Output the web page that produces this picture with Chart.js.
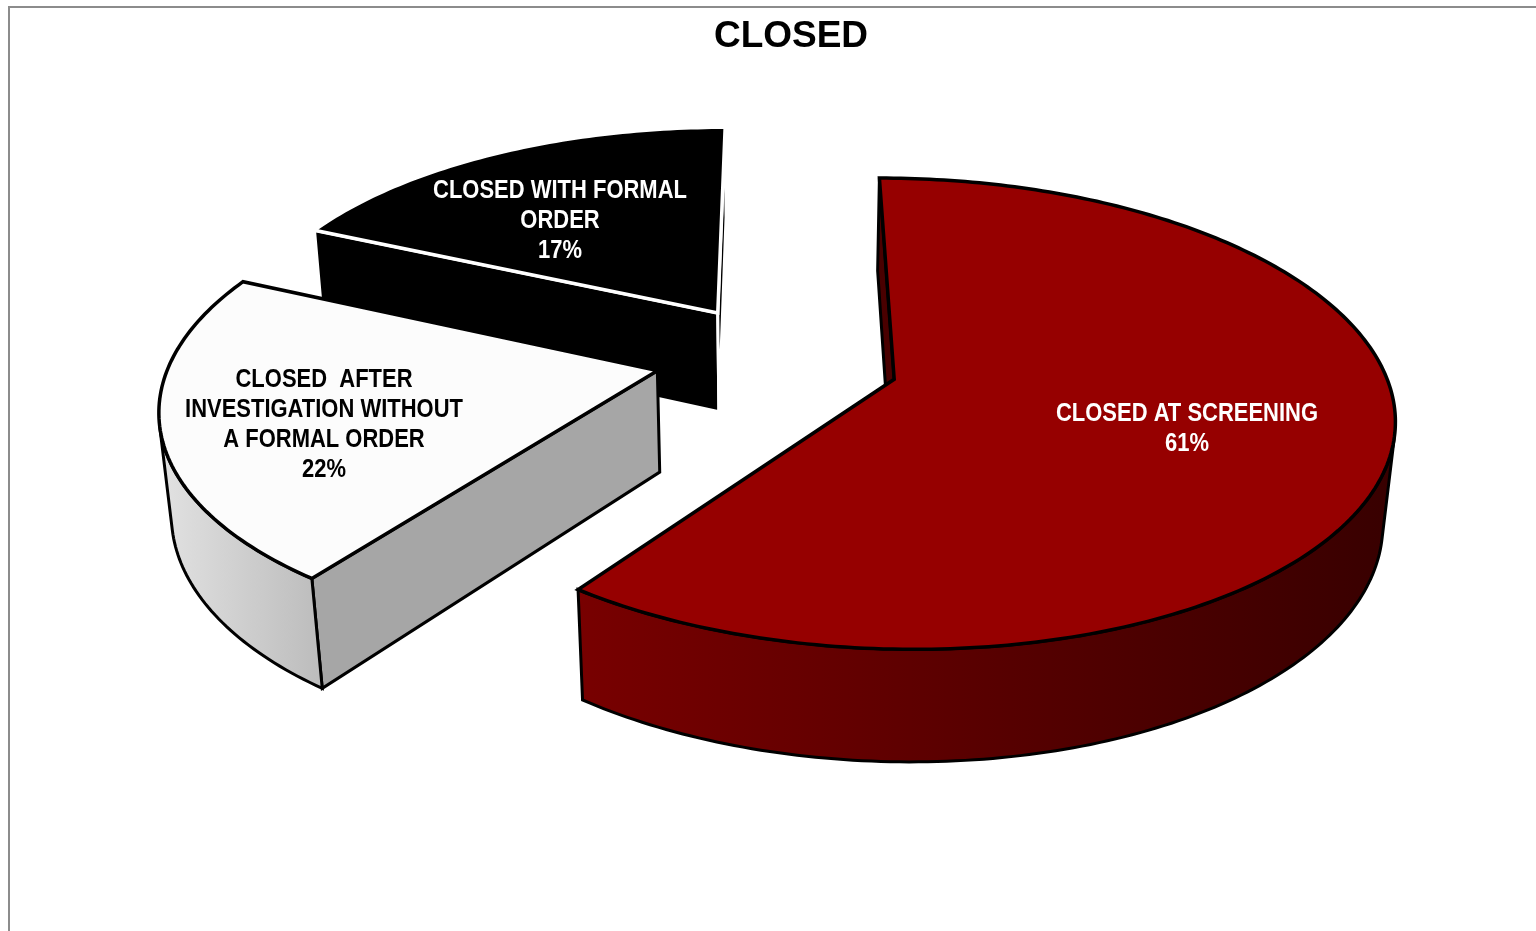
<!DOCTYPE html>
<html>
<head>
<meta charset="utf-8">
<title>CLOSED</title>
<script src="https://cdn.jsdelivr.net/npm/chart.js@4"></script>
<style>
  html, body { margin: 0; height: 100%; background: #fff; overflow: hidden; }
  #frame { position: absolute; left: 8px; top: 6px; width: 1700px; height: 1100px; border: 2px solid #8c8c8c; }
  #chart { position: absolute; left: 0; top: 0; }
</style>
</head>
<body>
<div id="frame"></div>
<canvas id="chart" width="1582" height="931"></canvas>
<script>
const categories = ["CLOSED AT SCREENING", "CLOSED AFTER INVESTIGATION WITHOUT A FORMAL ORDER", "CLOSED WITH FORMAL ORDER"];
const shares = [61, 22, 17];
const labelLines = [
  ["CLOSED AT SCREENING"],
  ["CLOSED  AFTER", "INVESTIGATION WITHOUT", "A FORMAL ORDER"],
  ["CLOSED WITH FORMAL", "ORDER"]
];

const topColors = ["#960000", "#fcfcfc", "#000000"];
const edgeColors = ["#000000", "#000000", "#ffffff"];
const labelColors = ["#ffffff", "#000000", "#ffffff"];
const faceColors = ["#4a0000", "#a6a6a6", "#000000"];
const wallGradients = [["#780000", "#380000"], ["#e2e2e2", "#bcbcbc"], ["#000000", "#000000"]];
const labelCenters = [[1187, 429], [324, 425], [560, 221]];

// camera used to lay the flat pie onto the screen
const view = { cx: 778, cy: 360, radius: 487, tilt: 0.462, persp: 0.000296, depth: 103, sink: 0.02, twist: 5 * Math.PI / 180 };

function project(u, v, z) {
  const w = 1 + view.persp * v + view.sink * z;
  return { x: view.cx + u / w, y: view.cy + (-view.tilt * v + view.depth * z) / w };
}

// the view twists cut lines towards the front on the left and right sides
function twisted(angle) {
  return angle - view.twist * Math.abs(Math.cos(angle));
}

function tracePath(ctx, pts) {
  ctx.beginPath();
  pts.forEach((p, i) => (i ? ctx.lineTo(p.x, p.y) : ctx.moveTo(p.x, p.y)));
  ctx.closePath();
}

function polyArea(pts) {
  let sum = 0;
  pts.forEach((p, i) => {
    const q = pts[(i + 1) % pts.length];
    sum += p.x * q.y - q.x * p.y;
  });
  return sum / 2;
}

function drawSlice(ctx, arc, index) {
  const { startAngle, endAngle, options } = arc;
  const mid = (startAngle + endAngle) / 2;
  const u0 = options.offset * Math.cos(mid);
  const v0 = -options.offset * Math.sin(mid);
  const from = twisted(startAngle);
  const to = twisted(endAngle);
  const steps = Math.ceil((to - from) * 60);

  const rim = z => {
    const pts = [];
    for (let i = 0; i <= steps; i++) {
      const a = from + (to - from) * i / steps;
      pts.push(project(u0 + view.radius * Math.cos(a), v0 - view.radius * Math.sin(a), z));
    }
    return pts;
  };
  const topRim = rim(0);
  const lowRim = rim(1);
  const apexTop = project(u0, v0, 0);
  const apexLow = project(u0, v0, 1);

  ctx.lineJoin = "miter";
  ctx.strokeStyle = options.borderColor;
  ctx.lineWidth = 3;

  // flat cut faces, only the ones turned towards the viewer
  const faces = [
    [apexTop, topRim[0], lowRim[0], apexLow],
    [topRim[steps], apexTop, apexLow, lowRim[steps]]
  ];
  for (const face of faces) {
    if (polyArea(face) < 0) {
      tracePath(ctx, face);
      ctx.fillStyle = faceColors[index];
      ctx.fill();
      ctx.stroke();
    }
  }

  // curved outer wall, same facing test per segment
  let first = -1;
  let last = -1;
  for (let i = 0; i < steps; i++) {
    if (polyArea([topRim[i], topRim[i + 1], lowRim[i + 1], lowRim[i]]) < 0) {
      if (first < 0) first = i;
      last = i + 1;
    }
  }
  if (first >= 0) {
    const wall = topRim.slice(first, last + 1).concat(lowRim.slice(first, last + 1).reverse());
    const xs = wall.map(p => p.x);
    const grad = ctx.createLinearGradient(Math.min(...xs), 0, Math.max(...xs), 0);
    const [left, right] = wallGradients[index];
    grad.addColorStop(0, left);
    grad.addColorStop(1, right);
    tracePath(ctx, wall);
    ctx.fillStyle = grad;
    ctx.fill();
    ctx.stroke();
  }

  // top surface
  tracePath(ctx, [apexTop].concat(topRim));
  ctx.fillStyle = options.backgroundColor;
  ctx.fill();
  ctx.lineWidth = 3.5;
  ctx.stroke();
}

function drawLabel(ctx, index) {
  const lines = labelLines[index].concat(shares[index] + "%");
  const [x, y] = labelCenters[index];
  const lineHeight = 30;
  ctx.save();
  // no narrow bold face available, so squeeze the regular bold one
  ctx.translate(x, y);
  ctx.scale(0.845, 1);
  ctx.font = 'bold 26px "Liberation Sans", Arial, sans-serif';
  ctx.textAlign = "center";
  ctx.textBaseline = "middle";
  ctx.fillStyle = labelColors[index];
  lines.forEach((line, i) => {
    ctx.fillText(line, 0, (i - (lines.length - 1) / 2) * lineHeight);
  });
  ctx.restore();
}

// Chart.js only draws flat arcs, so take over the dataset drawing and
// extrude each arc element from the angles the controller worked out.
const extrudedPie = {
  id: "extrudedPie",
  beforeDatasetDraw(chart, args) {
    const ctx = chart.ctx;
    const arcs = args.meta.data;
    ctx.save();
    for (let i = arcs.length - 1; i >= 0; i--) drawSlice(ctx, arcs[i], i);
    arcs.forEach((arc, i) => drawLabel(ctx, i));
    ctx.restore();
    return false;
  }
};

new Chart(document.getElementById("chart"), {
  type: "pie",
  plugins: [extrudedPie],
  data: {
    labels: categories,
    datasets: [{
      data: shares,
      backgroundColor: topColors,
      borderColor: edgeColors,
      offset: 122
    }]
  },
  options: {
    responsive: false,
    animation: false,
    plugins: {
      legend: { display: false },
      tooltip: { enabled: false },
      title: {
        display: true,
        text: "CLOSED",
        color: "#000000",
        font: { family: '"Liberation Sans", Arial, sans-serif', size: 37, weight: "bold" },
        padding: { top: 15, bottom: 10 }
      }
    }
  }
});
</script>
</body>
</html>
